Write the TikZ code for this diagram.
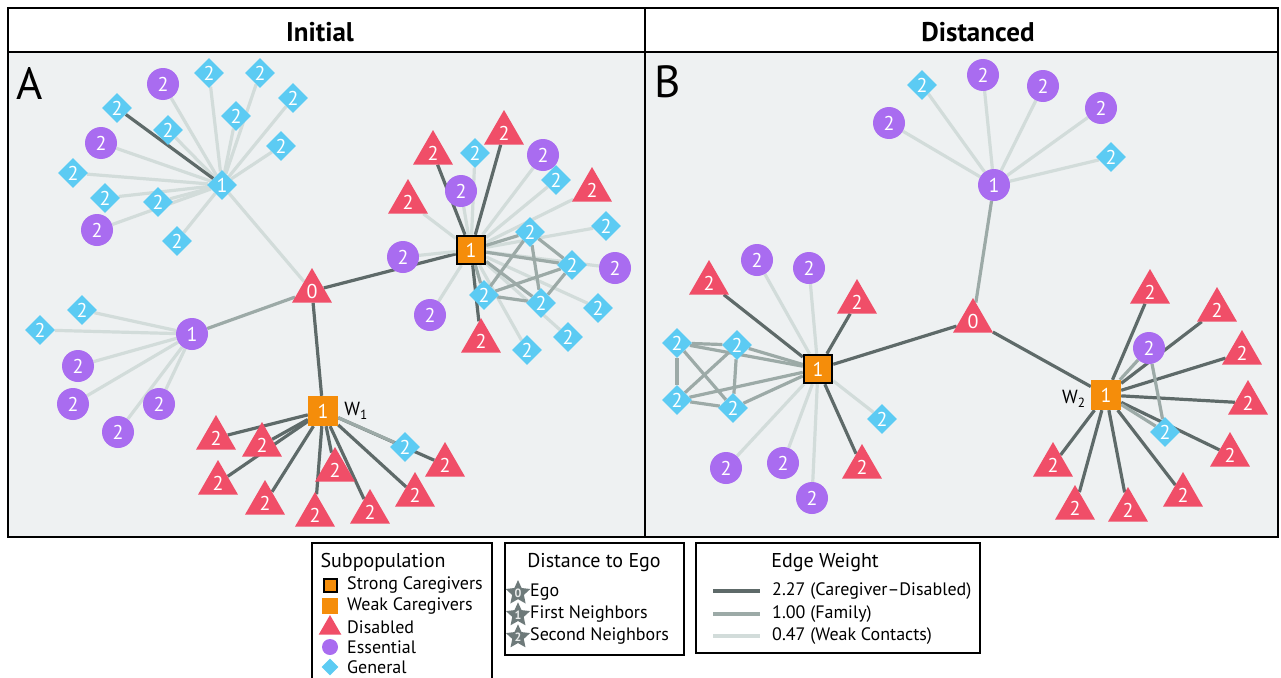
\documentclass[tikz,border=0pt]{standalone}
\usepackage{fontspec}
\setmainfont{PT Sans}
\usetikzlibrary{positioning}
\usetikzlibrary{shapes.geometric}
\pgfdeclarelayer{back}
\pgfdeclarelayer{edges}
\pgfsetlayers{back,edges,main}
\definecolor{disred}{HTML}{F04E68}
\definecolor{esspurple}{HTML}{A96CF0}
\definecolor{genblue}{HTML}{5CCBF3}
\definecolor{cgorange}{HTML}{F58D0A}
\definecolor{panelgray}{HTML}{EEF1F2}
\definecolor{edgedark}{HTML}{5E6A69}
\definecolor{edgemid}{HTML}{9CAAA7}
\definecolor{edgelight}{HTML}{D2DCDA}
\definecolor{stargray}{HTML}{6E7A7A}

\begin{document}
\begin{tikzpicture}[x=1pt,y=-1pt,
        every node/.style={inner sep=0pt},
        num/.style={text=white, font=\fontsize{20}{20}\selectfont},
        dis/.style={num, regular polygon, regular polygon sides=3, fill=disred, minimum size=46pt},
        ess/.style={num, circle, fill=esspurple, minimum size=32pt},
        gen/.style={num, diamond, fill=genblue, minimum size=30pt},
        wcg/.style={num, rectangle, fill=cgorange, minimum size=30pt},
        scg/.style={wcg, draw=black, line width=2.5pt, minimum size=28pt},
        cd/.style={draw=edgedark, line width=3.2pt},
        fam/.style={draw=edgemid, line width=3.2pt},
        wc/.style={draw=edgelight, line width=3.2pt},
        head/.style={font=\fontsize{27}{27}\selectfont\bfseries},
        panel/.style={font=\fontsize{45}{45}\selectfont},
        wlab/.style={font=\fontsize{19}{19}\selectfont},
        lgtitle/.style={font=\fontsize{20}{20}\selectfont},
        lgtext/.style={anchor=west, font=\fontsize{18}{18}\selectfont},
        lgstar/.style={star, star points=5, star point ratio=2.1, fill=stargray, minimum size=25pt,
            text=white!85!stargray, font=\fontsize{12}{12}\selectfont\bfseries}]
    \useasboundingbox (0,0) rectangle (1281,677);
    \begin{pgfonlayer}{back}
        \fill[panelgray] (8,52) rectangle (1278,537);
    \end{pgfonlayer}
    \draw[line width=2.5pt] (8,8) rectangle (1278,537) (8,52) -- (1278,52) (645,8) -- (645,537);
    \node[head] (hInit) at (320,32) {Initial};
    \node[head] (hDist) at (978,32) {Distanced};
    \node[panel] (pA) at (30,84) {A};
    \node[panel] (pB) at (668,82) {B};

    % panel A
    \node[dis] (egoA) at (312,291) {0};
    \node[gen] (hubA1) at (222,185) {1};
    \node[ess] (hubA2) at (192,334) {1};
    \node[wcg] (w1) at (323,411) {1};
    \node[scg] (s1) at (471,250) {1};
    \node[wlab, right=6pt of w1] (w1lab) {W\textsubscript{1}};
    \foreach \x/\y [count=\i] in {163/84, 101/143, 97/230}
        \node[ess] (a1e\i) at (\x,\y) {2};
    \foreach \x/\y [count=\i] in {209/73, 260/73, 293/98, 117/108, 168/130, 236/116, 281/146,
            73/173, 105/198, 158/202, 177/241}
        \node[gen] (a1g\i) at (\x,\y) {2};
    \foreach \x/\y [count=\i] in {82/310, 40/330}
        \node[gen] (a2g\i) at (\x,\y) {2};
    \foreach \x/\y [count=\i] in {78/366, 73/404, 159/404, 118/432}
        \node[ess] (a2e\i) at (\x,\y) {2};
    \foreach \x/\y [count=\i] in {216/438, 262/445, 218/483, 265/503, 315/515, 335/470,
            370/512, 415/495, 445/465}
        \node[dis] (w1d\i) at (\x,\y) {2};
    \node[gen] (w1g) at (405,447) {2};
    \foreach \x/\y [count=\i] in {433/153, 504/133, 481/341, 408/202, 592/190}
        \node[dis] (s1d\i) at (\x,\y) {2};
    \foreach \x/\y [count=\i] in {403/257, 461/191, 543/155, 615/268, 430/315}
        \node[ess] (s1e\i) at (\x,\y) {2};
    \foreach \x/\y [count=\i] in {475/153, 556/180, 606/226, 598/308, 568/337, 527/350}
        \node[gen] (s1g\i) at (\x,\y) {2};
    \foreach \x/\y [count=\i] in {530/232, 572/265, 484/295, 541/303}
        \node[gen] (s1c\i) at (\x,\y) {2};

    % panel B
    \node[dis] (egoB) at (973,321) {0};
    \node[ess] (hubB1) at (994,185) {1};
    \node[scg] (s2) at (818,369) {1};
    \node[wcg] (w2) at (1106,395) {1};
    \node[wlab, left=5pt of w2, yshift=-4pt] (w2lab) {W\textsubscript{2}};
    \foreach \x/\y [count=\i] in {889/123, 983/75, 1043/86, 1101/108}
        \node[ess] (b1e\i) at (\x,\y) {2};
    \foreach \x/\y [count=\i] in {922/85, 1111/157}
        \node[gen] (b1g\i) at (\x,\y) {2};
    \foreach \x/\y [count=\i] in {709/283, 857/302, 862/467}
        \node[dis] (s2d\i) at (\x,\y) {2};
    \foreach \x/\y [count=\i] in {757/260, 809/268, 726/468, 783/463, 812/498}
        \node[ess] (s2e\i) at (\x,\y) {2};
    \node[gen] (s2g) at (882,419) {2};
    \foreach \x/\y [count=\i] in {677/343, 737/345, 677/400, 733/408}
        \node[gen] (s2c\i) at (\x,\y) {2};
    \foreach \x/\y [count=\i] in {1150/292, 1217/310, 1242/353, 1248/403, 1230/455,
            1183/495, 1128/510, 1075/508, 1053/465}
        \node[dis] (w2d\i) at (\x,\y) {2};
    \node[ess] (w2e) at (1149,348) {2};
    \node[gen] (w2g) at (1165,432) {2};

    \begin{pgfonlayer}{edges}
        \draw[wc] (egoA) -- (hubA1);
        \draw[fam] (egoA) -- (hubA2);
        \draw[cd] (egoA) -- (w1);
        \draw[cd] (egoA) -- (s1);
        \foreach \i in {1,...,3} \draw[wc] (hubA1) -- (a1e\i);
        \foreach \i in {1,2,3,5,6,7,8,9,10,11} \draw[wc] (hubA1) -- (a1g\i);
        \draw[cd] (hubA1) -- (a1g4);
        \foreach \i in {1,2} \draw[wc] (hubA2) -- (a2g\i);
        \foreach \i in {1,...,4} \draw[wc] (hubA2) -- (a2e\i);
        \foreach \i in {1,...,9} \draw[cd] (w1) -- (w1d\i);
        \draw[fam] (w1) -- (w1g);
        \foreach \i in {1,...,3} \draw[cd] (s1) -- (s1d\i);
        \foreach \i in {4,5} \draw[wc] (s1) -- (s1d\i);
        \foreach \i in {1,...,5} \draw[wc] (s1) -- (s1e\i);
        \foreach \i in {1,...,6} \draw[wc] (s1) -- (s1g\i);
        \foreach \i in {1,...,4} \draw[fam] (s1) -- (s1c\i);
        \foreach \i/\j in {1/2, 1/3, 1/4, 2/3, 2/4, 3/4} \draw[fam] (s1c\i) -- (s1c\j);

        \draw[fam] (egoB) -- (hubB1);
        \draw[cd] (egoB) -- (s2);
        \draw[cd] (egoB) -- (w2);
        \foreach \i in {1,...,4} \draw[wc] (hubB1) -- (b1e\i);
        \foreach \i in {1,2} \draw[wc] (hubB1) -- (b1g\i);
        \foreach \i in {1,...,3} \draw[cd] (s2) -- (s2d\i);
        \foreach \i in {1,...,5} \draw[wc] (s2) -- (s2e\i);
        \draw[wc] (s2) -- (s2g);
        \foreach \i in {1,...,4} \draw[fam] (s2) -- (s2c\i);
        \foreach \i/\j in {1/2, 1/3, 1/4, 2/3, 2/4, 3/4} \draw[fam] (s2c\i) -- (s2c\j);
        \foreach \i in {1,...,9} \draw[cd] (w2) -- (w2d\i);
        \draw[fam] (w2) -- (w2e);
        \draw[fam] (w2) -- (w2g);
        \draw[fam] (w2e) -- (w2g);
    \end{pgfonlayer}

    % legend
    \draw[line width=1.5pt] (312,690) -- (312,543) -- (492,543) -- (492,690);
    \node[lgtitle] (lgSub) at (383,562) {Subpopulation};
    \node[scg, minimum size=13pt, line width=2pt] (lgS) at (330,585) {};
    \node[wcg, minimum size=16pt] (lgW) at (330,606) {};
    \node[dis, minimum size=26pt] (lgD) at (330,628) {};
    \node[ess, minimum size=16pt] (lgE) at (330,647) {};
    \node[gen, minimum size=17pt] (lgG) at (330,667) {};
    \node[lgtext] (lgSt) at (347,585) {Strong Caregivers};
    \node[lgtext] (lgWt) at (347,606) {Weak Caregivers};
    \node[lgtext] (lgDt) at (347,627) {Disabled};
    \node[lgtext] (lgEt) at (347,647) {Essential};
    \node[lgtext] (lgGt) at (347,667) {General};

    \draw[line width=1.5pt] (505,543) rectangle (684,655);
    \node[lgtitle] (lgDist) at (594,563) {Distance to Ego};
    \node[lgstar] (lg0) at (518,593) {0};
    \node[lgstar] (lg1) at (518,615) {1};
    \node[lgstar] (lg2) at (518,637) {2};
    \node[lgtext] (lg0t) at (530,592) {Ego};
    \node[lgtext] (lg1t) at (530,614) {First Neighbors};
    \node[lgtext] (lg2t) at (530,636) {Second Neighbors};

    \draw[line width=1.5pt] (696,543) rectangle (980,653);
    \node[lgtitle] (lgEdge) at (825,563) {Edge Weight};
    \coordinate (l1a) at (713,591); \coordinate (l1b) at (760,591);
    \coordinate (l2a) at (713,614); \coordinate (l2b) at (760,614);
    \coordinate (l3a) at (713,636); \coordinate (l3b) at (760,636);
    \draw[cd] (l1a) -- (l1b);
    \draw[fam] (l2a) -- (l2b);
    \draw[wc] (l3a) -- (l3b);
    \node[lgtext] (l1t) at (772,591) {2.27 (Caregiver--Disabled)};
    \node[lgtext] (l2t) at (772,614) {1.00 (Family)};
    \node[lgtext] (l3t) at (772,636) {0.47 (Weak Contacts)};
\end{tikzpicture}
\end{document}
